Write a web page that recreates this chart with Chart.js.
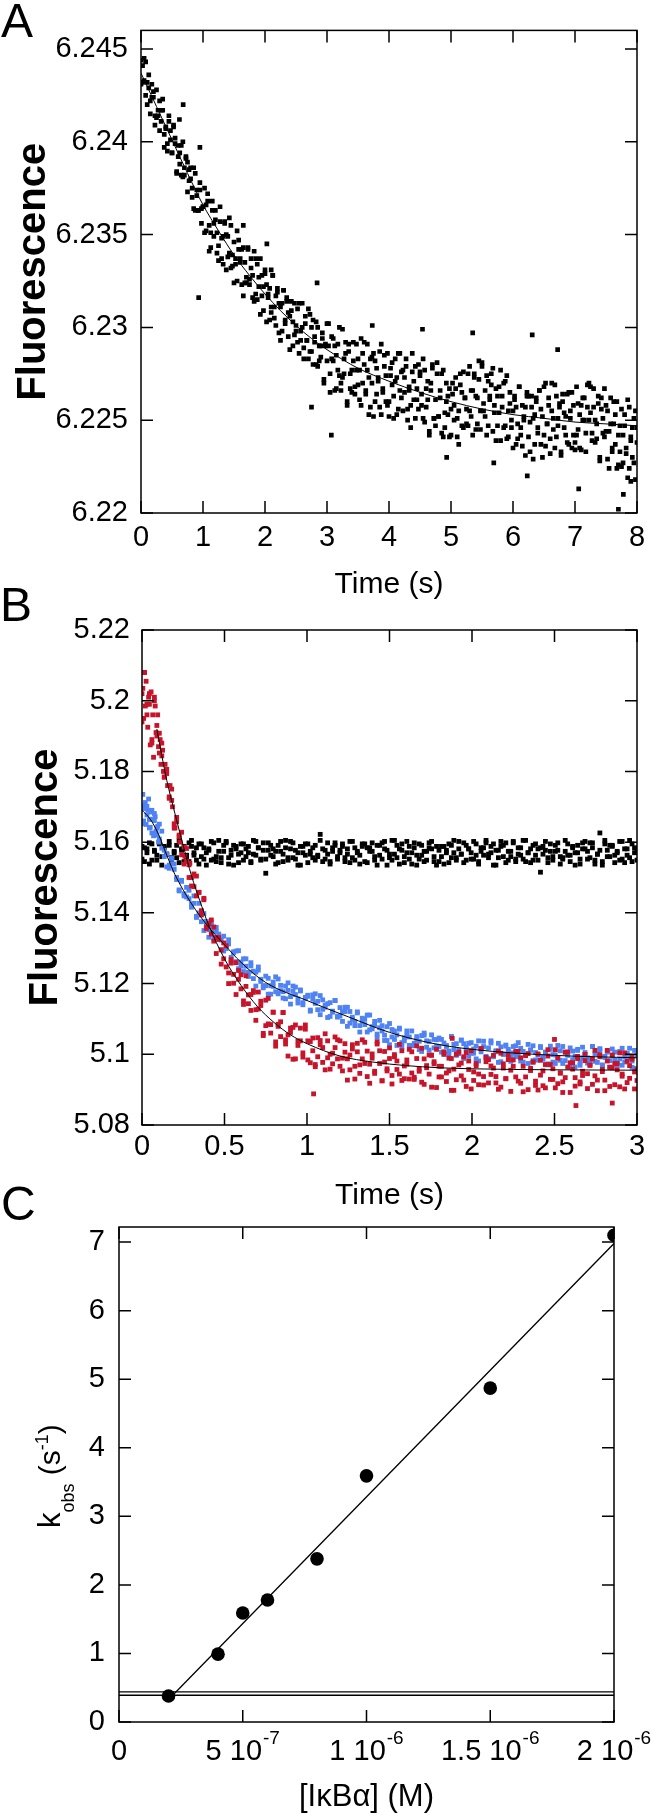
<!DOCTYPE html>
<html><head><meta charset="utf-8">
<script src="https://cdn.jsdelivr.net/npm/chart.js@4.4.1/dist/chart.umd.min.js"></script>
<style>
html,body{margin:0;padding:0;background:#fff;}
body{width:655px;height:1813px;position:relative;overflow:hidden;}
canvas{position:absolute;left:0;}
</style></head><body>
<canvas id="cA" width="655" height="605" style="top:0px"></canvas>
<canvas id="cB" width="655" height="655" style="top:560px"></canvas>
<canvas id="cC" width="655" height="643" style="top:1170px"></canvas>
<script>
// ---------------- Panel A data ----------------
const aTime = [
0,0.025,0.05,0.075,0.1,0.125,0.15,0.175,0.2,0.225,
0.25,0.275,0.3,0.325,0.35,0.375,0.4,0.425,0.45,0.475,
0.5,0.525,0.55,0.575,0.6,0.625,0.65,0.675,0.7,0.725,
0.75,0.775,0.8,0.825,0.85,0.875,0.9,0.925,0.95,0.975,
1,1.025,1.05,1.075,1.1,1.125,1.15,1.175,1.2,1.225,
1.25,1.275,1.3,1.325,1.35,1.375,1.4,1.425,1.45,1.475,
1.5,1.525,1.55,1.575,1.6,1.625,1.65,1.675,1.7,1.725,
1.75,1.775,1.8,1.825,1.85,1.875,1.9,1.925,1.95,1.975,
2,2.025,2.05,2.075,2.1,2.125,2.15,2.175,2.2,2.225,
2.25,2.275,2.3,2.325,2.35,2.375,2.4,2.425,2.45,2.475,
2.5,2.525,2.55,2.575,2.6,2.625,2.65,2.675,2.7,2.725,
2.75,2.775,2.8,2.825,2.85,2.875,2.9,2.925,2.95,2.975,
3,3.025,3.05,3.075,3.1,3.125,3.15,3.175,3.2,3.225,
3.25,3.275,3.3,3.325,3.35,3.375,3.4,3.425,3.45,3.475,
3.5,3.525,3.55,3.575,3.6,3.625,3.65,3.675,3.7,3.725,
3.75,3.775,3.8,3.825,3.85,3.875,3.9,3.925,3.95,3.975,
4,4.025,4.05,4.075,4.1,4.125,4.15,4.175,4.2,4.225,
4.25,4.275,4.3,4.325,4.35,4.375,4.4,4.425,4.45,4.475,
4.5,4.525,4.55,4.575,4.6,4.625,4.65,4.675,4.7,4.725,
4.75,4.775,4.8,4.825,4.85,4.875,4.9,4.925,4.95,4.975,
5,5.025,5.05,5.075,5.1,5.125,5.15,5.175,5.2,5.225,
5.25,5.275,5.3,5.325,5.35,5.375,5.4,5.425,5.45,5.475,
5.5,5.525,5.55,5.575,5.6,5.625,5.65,5.675,5.7,5.725,
5.75,5.775,5.8,5.825,5.85,5.875,5.9,5.925,5.95,5.975,
6,6.025,6.05,6.075,6.1,6.125,6.15,6.175,6.2,6.225,
6.25,6.275,6.3,6.325,6.35,6.375,6.4,6.425,6.45,6.475,
6.5,6.525,6.55,6.575,6.6,6.625,6.65,6.675,6.7,6.725,
6.75,6.775,6.8,6.825,6.85,6.875,6.9,6.925,6.95,6.975,
7,7.025,7.05,7.075,7.1,7.125,7.15,7.175,7.2,7.225,
7.25,7.275,7.3,7.325,7.35,7.375,7.4,7.425,7.45,7.475,
7.5,7.525,7.55,7.575,7.6,7.625,7.65,7.675,7.7,7.725,
7.75,7.775,7.8,7.825,7.85,7.875,7.9,7.925,7.95,7.975,
8];
// first trace
const aFluor = [
6.2444,6.2432,6.2445,6.2425,6.2432,6.2436,6.2415,6.2424,6.2427,6.2414,
6.2428,6.2414,6.2406,6.2417,6.2423,6.2404,6.2408,6.2395,6.2411,6.2401,
6.2394,6.2409,6.2399,6.2383,6.2398,6.2388,6.2398,6.2381,6.2386,6.2391,
6.2373,6.2385,6.2386,6.2375,6.2364,6.2383,6.2371,6.2363,6.2378,6.2356,
6.2365,6.2351,6.2366,6.2372,6.2355,6.2343,6.2363,6.2349,6.2363,6.2351,
6.2344,6.2365,6.2337,6.2349,6.2356,6.2331,6.2349,6.2340,6.2355,6.2333,
6.2346,6.2337,6.2325,6.2347,6.2335,6.2342,6.2317,6.2335,6.2324,6.2343,
6.2323,6.2337,6.2328,6.2314,6.2337,6.2315,6.2327,6.2337,6.2317,6.2309,
6.2329,6.2303,6.2316,6.2321,6.2308,6.2328,6.2311,6.2301,6.2319,6.2313,
6.2293,6.2313,6.2320,6.2304,6.2316,6.2295,6.2306,6.2309,6.2290,6.2313,
6.2301,6.2292,6.2313,6.2293,6.2300,6.2283,6.2306,6.2293,6.2310,6.2287,
6.2300,6.2280,6.2295,6.2303,6.2279,6.2290,6.2284,6.2297,6.2270,6.2291,
6.2282,6.2302,6.2275,6.2283,6.2294,6.2266,6.2285,6.2291,6.2274,6.2266,
6.2299,6.2275,6.2286,6.2260,6.2291,6.2267,6.2277,6.2282,6.2264,6.2291,
6.2269,6.2277,6.2258,6.2286,6.2292,6.2266,6.2277,6.2253,6.2283,6.2270,
6.2286,6.2260,6.2278,6.2271,6.2257,6.2291,6.2267,6.2279,6.2260,6.2286,
6.2252,6.2274,6.2281,6.2263,6.2271,6.2253,6.2286,6.2266,6.2276,6.2255,
6.2273,6.2283,6.2256,6.2266,6.2246,6.2276,6.2261,6.2279,6.2267,6.2256,
6.2276,6.2258,6.2283,6.2249,6.2267,6.2261,6.2244,6.2270,6.2278,6.2251,
6.2261,6.2275,6.2252,6.2266,6.2243,6.2277,6.2246,6.2260,6.2253,6.2267,
6.2242,6.2264,6.2258,6.2273,6.2251,6.2237,6.2269,6.2247,6.2276,6.2262,
6.2256,6.2247,6.2279,6.2252,6.2266,6.2275,6.2245,6.2262,6.2272,6.2245,
6.2279,6.2259,6.2252,6.2274,6.2247,6.2263,6.2269,6.2278,6.2254,6.2239,
6.2263,6.2268,6.2239,6.2257,6.2270,6.2247,6.2274,6.2241,6.2259,6.2250,
6.2235,6.2263,6.2257,6.2240,6.2268,6.2246,6.2236,6.2252,6.2257,6.2265,
6.2241,6.2249,6.2263,6.2229,6.2253,6.2260,6.2243,6.2266,6.2237,6.2252,
6.2268,6.2236,6.2248,6.2258,6.2240,6.2270,6.2251,6.2235,6.2263,6.2247,
6.2257,6.2233,6.2260,6.2254,6.2242,6.2264,6.2237,6.2251,6.2265,6.2242,
6.2238,6.2268,6.2245,6.2235,6.2258,6.2250,6.2262,6.2233,6.2257,6.2270,
6.2254,6.2243,6.2267,6.2238,6.2248,6.2259,6.2228,6.2262,6.2251,6.2241,
6.2258,6.2229,6.2244,6.2262,6.2233,6.2248,6.2237,6.2260,6.2226,6.2247,
6.2225,6.2242,6.2253,6.2232,6.2219,6.2257,6.2241,6.2230,6.2251,6.2218,
6.2246];
// second trace (same sampling times)
const aFluor2 = [
6.2431,6.2441,6.2433,6.2443,6.2420,6.2429,6.2422,6.2431,6.2424,6.2409,
6.2413,6.2417,6.2422,6.2411,6.2417,6.2397,6.2407,6.2399,6.2414,6.2406,
6.2394,6.2408,6.2402,6.2384,6.2392,6.2394,6.2382,6.2400,6.2382,6.2392,
6.2389,6.2379,6.2380,6.2370,6.2386,6.2363,6.2374,6.2363,6.2374,6.2364,
6.2365,6.2375,6.2352,6.2368,6.2341,6.2351,6.2368,6.2356,6.2358,6.2340,
6.2336,6.2357,6.2348,6.2334,6.2357,6.2350,6.2338,6.2359,6.2332,6.2339,
6.2324,6.2334,6.2352,6.2342,6.2337,6.2323,6.2343,6.2324,6.2327,6.2342,
6.2326,6.2332,6.2316,6.2341,6.2318,6.2334,6.2322,6.2307,6.2328,6.2322,
6.2331,6.2323,6.2318,6.2304,6.2311,6.2328,6.2305,6.2317,6.2321,6.2297,
6.2311,6.2298,6.2320,6.2302,6.2314,6.2308,6.2288,6.2314,6.2303,6.2296,
6.2298,6.2310,6.2286,6.2298,6.2313,6.2289,6.2302,6.2293,6.2283,6.2307,
6.2287,6.2304,6.2292,6.2280,6.2300,6.2282,6.2290,6.2294,6.2272,6.2290,
6.2302,6.2290,6.2265,6.2295,6.2282,6.2290,6.2267,6.2277,6.2300,6.2270,
6.2273,6.2283,6.2292,6.2258,6.2287,6.2275,6.2265,6.2292,6.2268,6.2277,
6.2283,6.2261,6.2294,6.2270,6.2280,6.2264,6.2291,6.2273,6.2257,6.2284,
6.2252,6.2282,6.2264,6.2273,6.2287,6.2253,6.2265,6.2285,6.2274,6.2258,
6.2260,6.2278,6.2269,6.2251,6.2283,6.2273,6.2256,6.2286,6.2262,6.2277,
6.2265,6.2279,6.2250,6.2268,6.2258,6.2286,6.2271,6.2251,6.2261,6.2280,
6.2274,6.2264,6.2251,6.2277,6.2257,6.2271,6.2242,6.2266,6.2280,6.2251,
6.2247,6.2281,6.2252,6.2262,6.2275,6.2241,6.2254,6.2270,6.2263,6.2241,
6.2256,6.2270,6.2250,6.2267,6.2241,6.2255,6.2275,6.2265,6.2246,6.2262,
6.2248,6.2275,6.2255,6.2266,6.2242,6.2273,6.2263,6.2248,6.2282,6.2255,
6.2281,6.2255,6.2266,6.2242,6.2271,6.2261,6.2275,6.2244,6.2258,6.2267,
6.2247,6.2254,6.2277,6.2263,6.2246,6.2271,6.2240,6.2255,6.2265,6.2246,
6.2255,6.2261,6.2237,6.2248,6.2268,6.2242,6.2258,6.2250,6.2231,6.2263,
6.2263,6.2233,6.2257,6.2251,6.2237,6.2262,6.2246,6.2266,6.2256,6.2230,
6.2242,6.2270,6.2248,6.2262,6.2232,6.2255,6.2245,6.2269,6.2241,6.2251,
6.2259,6.2231,6.2264,6.2246,6.2252,6.2238,6.2265,6.2255,6.2235,6.2258,
6.2234,6.2242,6.2259,6.2253,6.2234,6.2262,6.2250,6.2243,6.2269,6.2250,
6.2268,6.2239,6.2257,6.2250,6.2240,6.2263,6.2230,6.2256,6.2243,6.2267,
6.2244,6.2255,6.2224,6.2248,6.2235,6.2260,6.2253,6.2224,6.2242,6.2233,
6.2256,6.2227,6.2247,6.2235,6.2261,6.2224,6.2239,6.2246,6.2227,6.2255,
6.2238];
const aOutTime  = [0.68,0.62,0.95,0.93,1.65,2.03,2.1,2.84,2.75,3.07,3.73,4.54,5.35,6.31,6.72,6.23,7.06,7.7,7.78,7.9,4.93,5.69];
const aOutFluor = [6.2420,6.2412,6.2397,6.2316,6.2355,6.2345,6.2331,6.2324,6.2257,6.2242,6.2301,6.2299,6.2297,6.2296,6.2288,6.2220,6.2213,6.2202,6.2210,6.2217,6.2230,6.2227];
const aFitTime  = [0,0.25,0.5,0.75,1,1.25,1.5,1.75,2,2.25,2.5,2.75,3,3.5,4,4.5,5,5.5,6,6.5,7,7.5,8];
const aFitFluor = [6.2437,6.2419,6.2401,6.2383,6.2366,6.2352,6.2339,6.2328,6.2318,6.2309,6.2301,6.2294,6.2288,6.2278,6.2271,6.2265,6.2260,6.2256,6.2253,6.2251,6.2249,6.2248,6.2247];
const aXTicks = [0,1,2,3,4,5,6,7,8];
const aXTickLabels = ['0','1','2','3','4','5','6','7','8'];
const aYTicks = [6.22,6.225,6.23,6.235,6.24,6.245];
const aYTickLabels = ['6.22','6.225','6.23','6.235','6.24','6.245'];

// ---------------- Panel B data ----------------
const bTime = [
0,0.015,0.03,0.045,0.06,0.075,0.09,0.105,0.12,0.135,
0.15,0.165,0.18,0.195,0.21,0.225,0.24,0.255,0.27,0.285,
0.3,0.315,0.33,0.345,0.36,0.375,0.39,0.405,0.42,0.435,
0.45,0.465,0.48,0.495,0.51,0.525,0.54,0.555,0.57,0.585,
0.6,0.615,0.63,0.645,0.66,0.675,0.69,0.705,0.72,0.735,
0.75,0.765,0.78,0.795,0.81,0.825,0.84,0.855,0.87,0.885,
0.9,0.915,0.93,0.945,0.96,0.975,0.99,1.005,1.02,1.035,
1.05,1.065,1.08,1.095,1.11,1.125,1.14,1.155,1.17,1.185,
1.2,1.215,1.23,1.245,1.26,1.275,1.29,1.305,1.32,1.335,
1.35,1.365,1.38,1.395,1.41,1.425,1.44,1.455,1.47,1.485,
1.5,1.515,1.53,1.545,1.56,1.575,1.59,1.605,1.62,1.635,
1.65,1.665,1.68,1.695,1.71,1.725,1.74,1.755,1.77,1.785,
1.8,1.815,1.83,1.845,1.86,1.875,1.89,1.905,1.92,1.935,
1.95,1.965,1.98,1.995,2.01,2.025,2.04,2.055,2.07,2.085,
2.1,2.115,2.13,2.145,2.16,2.175,2.19,2.205,2.22,2.235,
2.25,2.265,2.28,2.295,2.31,2.325,2.34,2.355,2.37,2.385,
2.4,2.415,2.43,2.445,2.46,2.475,2.49,2.505,2.52,2.535,
2.55,2.565,2.58,2.595,2.61,2.625,2.64,2.655,2.67,2.685,
2.7,2.715,2.73,2.745,2.76,2.775,2.79,2.805,2.82,2.835,
2.85,2.865,2.88,2.895,2.91,2.925,2.94,2.955,2.97,2.985,
3];
const bBlack = [
5.1588,5.1545,5.1581,5.1598,5.1549,5.1574,5.1563,5.1595,5.1535,5.1584,
5.1566,5.1602,5.1556,5.1570,5.1591,5.1542,5.1577,5.1588,5.1559,5.1545,
5.1605,5.1563,5.1584,5.1538,5.1595,5.1552,5.1570,5.1581,5.1549,5.1598,
5.1559,5.1574,5.1542,5.1591,5.1602,5.1556,5.1577,5.1535,5.1588,5.1566,
5.1595,5.1549,5.1581,5.1570,5.1545,5.1605,5.1563,5.1584,5.1552,5.1598,
5.1512,5.1577,5.1591,5.1559,5.1574,5.1542,5.1602,5.1566,5.1584,5.1549,
5.1581,5.1598,5.1552,5.1570,5.1535,5.1588,5.1563,5.1595,5.1574,5.1556,
5.1591,5.1559,5.1622,5.1545,5.1577,5.1566,5.1538,5.1584,5.1598,5.1552,
5.1570,5.1595,5.1556,5.1581,5.1542,5.1602,5.1549,5.1574,5.1563,5.1588,
5.1545,5.1584,5.1574,5.1598,5.1559,5.1535,5.1591,5.1552,5.1602,5.1577,
5.1566,5.1549,5.1605,5.1556,5.1581,5.1595,5.1542,5.1570,5.1588,5.1538,
5.1598,5.1563,5.1552,5.1591,5.1545,5.1574,5.1584,5.1602,5.1559,5.1535,
5.1577,5.1588,5.1538,5.1570,5.1595,5.1556,5.1605,5.1549,5.1581,5.1566,
5.1542,5.1591,5.1581,5.1552,5.1602,5.1563,5.1545,5.1574,5.1584,5.1598,
5.1556,5.1570,5.1595,5.1535,5.1577,5.1588,5.1559,5.1598,5.1549,5.1574,
5.1602,5.1545,5.1566,5.1584,5.1552,5.1605,5.1570,5.1542,5.1591,5.1563,
5.1581,5.1515,5.1588,5.1577,5.1556,5.1595,5.1549,5.1574,5.1598,5.1559,
5.1552,5.1605,5.1563,5.1545,5.1584,5.1570,5.1591,5.1538,5.1581,5.1602,
5.1574,5.1556,5.1598,5.1549,5.1566,5.1626,5.1535,5.1595,5.1577,5.1559,
5.1591,5.1542,5.1570,5.1602,5.1552,5.1581,5.1563,5.1605,5.1545,5.1584,
5.1549];
const bBlack2 = [
5.1552,5.1584,5.1570,5.1538,5.1595,5.1577,5.1549,5.1602,5.1559,5.1588,
5.1566,5.1591,5.1542,5.1574,5.1556,5.1605,5.1581,5.1545,5.1563,5.1598,
5.1588,5.1570,5.1549,5.1595,5.1559,5.1584,5.1535,5.1577,5.1602,5.1552,
5.1545,5.1605,5.1556,5.1574,5.1598,5.1538,5.1563,5.1591,5.1581,5.1542,
5.1570,5.1595,5.1559,5.1588,5.1542,5.1566,5.1602,5.1584,5.1549,5.1577,
5.1552,5.1598,5.1563,5.1581,5.1538,5.1591,5.1574,5.1545,5.1605,5.1556,
5.1602,5.1556,5.1577,5.1535,5.1588,5.1570,5.1595,5.1542,5.1566,5.1584,
5.1549,5.1563,5.1605,5.1581,5.1552,5.1598,5.1545,5.1574,5.1591,5.1559,
5.1577,5.1588,5.1545,5.1566,5.1602,5.1556,5.1584,5.1570,5.1538,5.1595,
5.1595,5.1542,5.1584,5.1574,5.1549,5.1591,5.1563,5.1598,5.1581,5.1535,
5.1556,5.1605,5.1566,5.1591,5.1538,5.1577,5.1559,5.1602,5.1552,5.1570,
5.1584,5.1535,5.1595,5.1563,5.1574,5.1549,5.1598,5.1581,5.1545,5.1588,
5.1545,5.1559,5.1588,5.1577,5.1542,5.1591,5.1570,5.1556,5.1602,5.1566,
5.1598,5.1549,5.1581,5.1570,5.1552,5.1595,5.1538,5.1584,5.1563,5.1605,
5.1566,5.1588,5.1535,5.1577,5.1556,5.1602,5.1591,5.1542,5.1574,5.1559,
5.1598,5.1552,5.1584,5.1563,5.1605,5.1545,5.1570,5.1581,5.1549,5.1595,
5.1549,5.1584,5.1566,5.1602,5.1542,5.1574,5.1559,5.1591,5.1577,5.1538,
5.1556,5.1574,5.1595,5.1563,5.1588,5.1535,5.1570,5.1552,5.1598,5.1581,
5.1552,5.1598,5.1584,5.1538,5.1566,5.1577,5.1545,5.1605,5.1559,5.1591,
5.1588,5.1563,5.1574,5.1549,5.1602,5.1542,5.1581,5.1556,5.1595,5.1570,
5.1577];
const bRed = [
5.2020,5.2080,5.1960,5.1990,5.1880,5.2000,5.1900,5.1908,5.1844,5.1784,
5.1794,5.1728,5.1750,5.1652,5.1658,5.1616,5.1564,5.1586,5.1582,5.1500,
5.1500,5.1510,5.1448,5.1458,5.1394,5.1441,5.1360,5.1370,5.1340,5.1360,
5.1285,5.1325,5.1295,5.1315,5.1247,5.1200,5.1268,5.1201,5.1259,5.1212,
5.1185,5.1151,5.1222,5.1143,5.1169,5.1180,5.1096,5.1128,5.1150,5.1059,
5.1153,5.1086,5.1060,5.1119,5.1035,5.1079,5.1092,5.1118,5.1041,5.0995,
5.1062,5.1076,5.0987,5.1037,5.1074,5.1004,5.1083,5.0984,5.1036,5.1010,
5.0965,5.1047,5.1027,5.0977,5.1058,5.0990,5.0958,5.1003,5.1019,5.1041,
5.0966,5.0989,5.1030,5.0927,5.0998,5.1015,5.0966,5.1031,5.0946,5.0987,
5.1034,5.0937,5.0972,5.1001,5.0946,5.1035,5.0974,5.0925,5.1008,5.0959,
5.0988,5.0916,5.0999,5.0981,5.0944,5.1010,5.0931,5.0972,5.1014,5.0947,
5.0935,5.1024,5.0952,5.0921,5.0987,5.0962,5.0998,5.0907,5.0979,5.1014,
5.0966,5.0936,5.1007,5.0923,5.0953,5.0988,5.0898,5.1000,5.0970,5.0939,
5.0993,5.0909,5.0957,5.1010,5.0926,5.0974,5.0944,5.1016,5.0913,5.0979,
5.0919,5.0967,5.0997,5.0937,5.0901,5.1003,5.0961,5.0931,5.0985,5.0895,
5.0984,5.0936,5.1008,5.0918,5.0966,5.0996,5.0900,5.0954,5.0978,5.0924,
5.1001,5.0941,5.0911,5.0971,5.1013,5.0929,5.0959,5.0905,5.0989,5.0947,
5.0922,5.1006,5.0964,5.0892,5.0976,5.0934,5.0994,5.0916,5.0952,5.0982,
5.0903,5.0969,5.0987,5.0939,5.0897,5.0999,5.0957,5.0927,5.1011,5.0909,
5.0962,5.0914,5.0974,5.1004,5.0944,5.0902,5.0980,5.0932,5.0992,5.0950,
5.0926];
const bRed2 = [
5.1940,5.2080,5.1990,5.2020,5.1890,5.2010,5.1930,5.1852,5.1880,5.1784,
5.1806,5.1724,5.1718,5.1640,5.1670,5.1620,5.1628,5.1538,5.1546,5.1536,
5.1476,5.1474,5.1504,5.1458,5.1406,5.1437,5.1356,5.1370,5.1380,5.1320,
5.1330,5.1330,5.1255,5.1270,5.1307,5.1230,5.1258,5.1226,5.1169,5.1237,
5.1225,5.1141,5.1192,5.1168,5.1124,5.1175,5.1126,5.1176,5.1138,5.1053,
5.1081,5.1158,5.1084,5.1119,5.1023,5.1085,5.1050,5.1118,5.1029,5.1055,
5.1074,5.0986,5.1083,5.1025,5.1038,5.0992,5.1071,5.1038,5.0976,5.1046,
5.0971,5.0993,5.1039,5.1019,5.0956,5.1038,5.1000,5.0973,5.1049,5.0987,
5.1038,5.0953,5.1006,5.0987,5.0956,5.1027,5.0930,5.1007,5.0970,5.1041,
5.0974,5.1009,5.0918,5.0989,5.0952,5.1029,5.1010,5.0925,5.0978,5.0953,
5.1018,5.0940,5.0993,5.0957,5.1028,5.0926,5.0967,5.0984,5.0930,5.1007,
5.0929,5.0988,5.0958,5.1017,5.0915,5.0968,5.0944,5.0997,5.0973,5.0906,
5.0936,5.0966,5.1001,5.0947,5.0989,5.0898,5.0958,5.0928,5.1006,5.0975,
5.0927,5.1005,5.0981,5.0902,5.0950,5.0968,5.0914,5.1016,5.0937,5.0991,
5.0985,5.0943,5.0961,5.0919,5.1009,5.0907,5.0973,5.0931,5.0997,5.0955,
5.0966,5.1008,5.0924,5.0990,5.0894,5.0936,5.1002,5.0960,5.0978,5.0912,
5.0899,5.0983,5.0953,5.0905,5.0995,5.0971,5.0929,5.1013,5.0917,5.0947,
5.0892,5.0934,5.1006,5.0976,5.0958,5.0910,5.0988,5.0922,5.0940,5.1000,
5.0945,5.0969,5.0915,5.1011,5.0927,5.0993,5.0951,5.0897,5.0981,5.0963,
5.0998,5.0974,5.0956,5.0908,5.0938,5.1004,5.0920,5.0968,5.0986,5.0902,
5.0956];
const bBlue = [
5.1656,5.1695,5.1701,5.1664,5.1626,5.1681,5.1640,5.1609,5.1631,5.1559,
5.1566,5.1526,5.1539,5.1538,5.1494,5.1462,5.1489,5.1454,5.1472,5.1440,
5.1416,5.1448,5.1387,5.1400,5.1405,5.1350,5.1376,5.1352,5.1374,5.1328,
5.1347,5.1325,5.1296,5.1334,5.1305,5.1312,5.1259,5.1287,5.1262,5.1293,
5.1249,5.1270,5.1249,5.1220,5.1259,5.1214,5.1232,5.1247,5.1206,5.1188,
5.1221,5.1170,5.1194,5.1204,5.1177,5.1213,5.1180,5.1159,5.1193,5.1181,
5.1142,5.1178,5.1190,5.1157,5.1179,5.1140,5.1158,5.1164,5.1125,5.1168,
5.1144,5.1126,5.1166,5.1127,5.1139,5.1104,5.1146,5.1122,5.1152,5.1108,
5.1132,5.1093,5.1121,5.1133,5.1088,5.1105,5.1093,5.1117,5.1063,5.1102,
5.1084,5.1111,5.1069,5.1078,5.1093,5.1048,5.1075,5.1081,5.1054,5.1039,
5.1087,5.1049,5.1066,5.1025,5.1071,5.1033,5.1047,5.1054,5.1025,5.1066,
5.1031,5.1041,5.1013,5.1053,5.1060,5.1020,5.1036,5.0998,5.1042,5.1023,
5.1046,5.1006,5.1032,5.1022,5.1000,5.1050,5.1013,5.1030,5.1002,5.1040,
5.0988,5.1020,5.1031,5.1003,5.1015,5.0987,5.1038,5.1007,5.1022,5.0991,
5.1018,5.1032,5.0993,5.1007,5.0977,5.1021,5.1000,5.1026,5.1008,5.0992,
5.1022,5.0994,5.1033,5.0981,5.1008,5.0998,5.0974,5.1012,5.1024,5.0984,
5.0999,5.1019,5.0986,5.1006,5.0973,5.1023,5.0978,5.0998,5.0989,5.1010,
5.0974,5.1006,5.0997,5.1018,5.0985,5.0964,5.1011,5.0978,5.1020,5.0999,
5.0990,5.0974,5.1022,5.0980,5.1001,5.1013,5.0967,5.0991,5.1006,5.0964,
5.1015,5.0985,5.0975,5.1008,5.0969,5.0993,5.1002,5.1017,5.0981,5.0960,
5.0996];
const bBlue2 = [
5.1652,5.1703,5.1677,5.1640,5.1690,5.1661,5.1620,5.1651,5.1583,5.1577,
5.1530,5.1535,5.1554,5.1523,5.1500,5.1465,5.1492,5.1448,5.1445,5.1464,
5.1425,5.1427,5.1390,5.1427,5.1375,5.1398,5.1367,5.1331,5.1365,5.1349,
5.1359,5.1340,5.1323,5.1292,5.1299,5.1324,5.1274,5.1290,5.1292,5.1242,
5.1261,5.1234,5.1270,5.1232,5.1250,5.1235,5.1193,5.1238,5.1212,5.1194,
5.1194,5.1215,5.1170,5.1192,5.1219,5.1171,5.1195,5.1177,5.1157,5.1202,
5.1163,5.1193,5.1169,5.1145,5.1182,5.1146,5.1161,5.1167,5.1122,5.1156,
5.1171,5.1150,5.1112,5.1154,5.1133,5.1143,5.1107,5.1119,5.1152,5.1105,
5.1108,5.1120,5.1133,5.1079,5.1121,5.1099,5.1081,5.1120,5.1081,5.1093,
5.1099,5.1063,5.1111,5.1072,5.1084,5.1057,5.1096,5.1066,5.1039,5.1078,
5.1027,5.1070,5.1042,5.1055,5.1074,5.1021,5.1038,5.1066,5.1049,5.1024,
5.1025,5.1050,5.1037,5.1008,5.1054,5.1038,5.1012,5.1055,5.1018,5.1041,
5.1022,5.1042,5.0999,5.1025,5.1009,5.1050,5.1028,5.0997,5.1011,5.1040,
5.1030,5.1014,5.0995,5.1033,5.1003,5.1023,5.0981,5.1016,5.1037,5.0994,
5.0988,5.1038,5.0996,5.1010,5.1031,5.0979,5.1000,5.1023,5.1014,5.0980,
5.1004,5.1024,5.0994,5.1017,5.0978,5.0998,5.1028,5.1012,5.0982,5.1005,
5.0984,5.1022,5.0992,5.1006,5.0970,5.1014,5.0999,5.0974,5.1025,5.0983,
5.1022,5.0982,5.1000,5.0964,5.1009,5.0994,5.1014,5.0969,5.0990,5.1005,
5.0975,5.0986,5.1022,5.1001,5.0977,5.1016,5.0970,5.0994,5.1009,5.0982,
5.0997,5.1006,5.0969,5.0987,5.1017,5.0978,5.1002,5.0990,5.0963,5.1011,
5.1011];
const bRedExtraTime  = [0.005,0.01,0.02,0.025,0.035,0.04,0.05,0.055,0.065,0.07,0.08,0.085,0.095,0.1,0.11,0.115,0.125,0.13,0.14,0.155,0.17,0.185,0.2,0.23,0.26,0.29,1.04,2.63,2.85,1.88,2.5];
const bRedExtraFluor = [5.2035,5.1950,5.1985,5.2055,5.1925,5.2010,5.1875,5.2025,5.1960,5.1840,5.1985,5.1910,5.1960,5.1870,5.1890,5.1820,5.1860,5.1800,5.1820,5.1760,5.1760,5.1700,5.1640,5.1600,5.1560,5.1540,5.0888,5.0855,5.0862,5.1045,5.1042];
const bBlueExtraTime  = [0.005,0.01,0.02,0.025,0.035,0.04,0.05,0.055,0.065,0.07,0.08,0.085,0.095,0.1];
const bBlueExtraFluor = [5.1735,5.1660,5.1712,5.1650,5.1690,5.1722,5.1642,5.1685,5.1665,5.1618,5.1672,5.1630,5.1645,5.1600];
const bRedFitTime  = [0.09,0.12,0.15,0.2,0.25,0.3,0.35,0.4,0.5,0.6,0.7,0.8,0.9,1.0,1.2,1.4,1.6,1.8,2.0,2.5,3.0];
const bRedFitFluor = [5.1920,5.1845,5.1775,5.1680,5.1590,5.1505,5.1435,5.1370,5.1270,5.1195,5.1135,5.1090,5.1055,5.1030,5.0995,5.0978,5.0968,5.0962,5.0959,5.0956,5.0955];
const bBlueFitTime  = [0,0.05,0.1,0.15,0.2,0.3,0.4,0.5,0.6,0.75,1.0,1.25,1.5,1.75,2.0,2.5,3.0];
const bBlueFitFluor = [5.1690,5.1665,5.1622,5.1563,5.1508,5.1426,5.1362,5.1310,5.1260,5.1203,5.1152,5.1106,5.1062,5.1032,5.1014,5.0997,5.0990];
const bXTicks = [0,0.5,1,1.5,2,2.5,3];
const bXTickLabels = ['0','0.5','1','1.5','2','2.5','3'];
const bYTicks = [5.08,5.1,5.12,5.14,5.16,5.18,5.2,5.22];
const bYTickLabels = ['5.08','5.1','5.12','5.14','5.16','5.18','5.2','5.22'];

// ---------------- Panel C data ----------------
const cConc = [2e-7,4e-7,5e-7,6e-7,8e-7,1e-6,1.5e-6,2e-6];
const cKobs = [0.38,0.99,1.59,1.78,2.38,3.59,4.87,7.10];
const cFitConc = [2.2e-7,2e-6];
const cFitKobs = [0.40,6.98];
const cBaseConc = [0,2e-6];
const cBaseUpper = [0.44,0.44];
const cBaseLower = [0.39,0.39];
const cXTicks = [0,5e-7,1e-6,1.5e-6,2e-6];
const cXTickLabels = [['0',''],['5 10','-7'],['1 10','-6'],['1.5 10','-6'],['2 10','-6']];
const cYTicks = [0,1,2,3,4,5,6,7];
const cYTickLabels = ['0','1','2','3','4','5','6','7'];

// ---------------- helpers ----------------
const FONT = "'Liberation Sans', Arial, Helvetica, sans-serif";
Chart.defaults.font.family = FONT;
Chart.defaults.color = '#000';
const pts = (xs, ys) => xs.map((x, i) => ({x: x, y: ys[i]}));

const framePlugin = {
  id: 'frame',
  afterDatasetsDraw(chart, args, o) {
    const {ctx, chartArea: a, scales: {x, y}} = chart;
    ctx.save();
    ctx.strokeStyle = '#000';
    ctx.lineWidth = 1.5;
    ctx.beginPath();
    o.xTicks.forEach(v => {
      const p = x.getPixelForValue(v);
      ctx.moveTo(p, a.bottom); ctx.lineTo(p, a.bottom - o.len);
      ctx.moveTo(p, a.top); ctx.lineTo(p, a.top + o.len);
    });
    o.yTicks.forEach(v => {
      const p = y.getPixelForValue(v);
      ctx.moveTo(a.left, p); ctx.lineTo(a.left + o.len, p);
      ctx.moveTo(a.right, p); ctx.lineTo(a.right - o.len, p);
    });
    ctx.stroke();
    ctx.strokeRect(a.left, a.top, a.right - a.left, a.bottom - a.top);
    ctx.fillStyle = '#000';
    ctx.font = '48px ' + FONT;
    ctx.textAlign = 'left';
    ctx.textBaseline = 'alphabetic';
    ctx.fillText(o.letter, o.letterX, o.letterY);
    ctx.restore();
  }
};

function axisCfg(min, max, ticks, labels, pad, extra) {
  return Object.assign({
    type: 'linear', min: min, max: max,
    grid: {display: false, drawTicks: false},
    border: {display: false},
    afterBuildTicks: s => { s.ticks = ticks.map(v => ({value: v})); },
    ticks: {callback: (v, i) => labels[i], font: {size: 29}, color: '#000', padding: pad, autoSkip: false, maxRotation: 0, minRotation: 0},
  }, extra);
}

const baseOpts = {
  responsive: false, animation: false, devicePixelRatio: 1, events: [],
  plugins: {legend: {display: false}, tooltip: {enabled: false}}
};
const sq = (data, color, r) => ({data: data, pointStyle: 'rect', pointRadius: r, backgroundColor: color, borderWidth: 0});

// ---------------- Chart A ----------------
new Chart(document.getElementById('cA'), {
  type: 'scatter',
  data: {datasets: [
    {data: pts(aFitTime, aFitFluor), showLine: true, borderColor: '#000', borderWidth: 1.0, pointRadius: 0, cubicInterpolationMode: 'monotone'},
    sq(pts(aTime, aFluor), '#000', 3.3),
    sq(pts(aTime, aFluor2), '#000', 3.3),
    sq(pts(aOutTime, aOutFluor), '#000', 3.3)
  ]},
  options: Object.assign({}, baseOpts, {
    layout: {padding: {top: 18, right: 18, left: 0, bottom: 0}},
    plugins: Object.assign({}, baseOpts.plugins, {frame: {xTicks: aXTicks, yTicks: aYTicks, len: 12, letter: 'A', letterX: 1, letterY: 37}}),
    scales: {
      x: axisCfg(0, 8, aXTicks, aXTickLabels, 8, {
        title: {display: true, text: 'Time (s)', font: {size: 30, lineHeight: 1.2}, color: '#000', padding: {top: 0, bottom: 2}},
        afterFit: s => { s.height = 92; }
      }),
      y: axisCfg(6.22, 6.246, aYTicks, aYTickLabels, 13, {
        title: {display: true, text: 'Fluorescence', font: {size: 40, weight: 'bold', lineHeight: 1.2}, color: '#000', padding: {top: 10, bottom: 0}},
        afterFit: s => { s.width = 141; }
      })
    }
  }),
  plugins: [framePlugin]
});

// ---------------- Chart B ----------------
const RED = '#c8142a', BLUE = '#4f82f2';
new Chart(document.getElementById('cB'), {
  type: 'scatter',
  data: {datasets: [
    {data: pts(bRedFitTime, bRedFitFluor), showLine: true, borderColor: '#000', borderWidth: 1.0, pointRadius: 0, cubicInterpolationMode: 'monotone'},
    {data: pts(bBlueFitTime, bBlueFitFluor), showLine: true, borderColor: '#000', borderWidth: 1.0, pointRadius: 0, cubicInterpolationMode: 'monotone'},
    sq(pts(bTime, bRed), RED, 3.4),
    sq(pts(bTime, bRed2), RED, 3.4),
    sq(pts(bRedExtraTime, bRedExtraFluor), RED, 3.4),
    sq(pts(bTime, bBlue), BLUE, 3.4),
    sq(pts(bTime, bBlue2), BLUE, 3.4),
    sq(pts(bBlueExtraTime, bBlueExtraFluor), BLUE, 3.4),
    sq(pts(bTime, bBlack), '#000', 3.4),
    sq(pts(bTime, bBlack2), '#000', 3.4)
  ]},
  options: Object.assign({}, baseOpts, {
    layout: {padding: {top: 70, right: 18, left: 0, bottom: 0}},
    plugins: Object.assign({}, baseOpts.plugins, {frame: {xTicks: bXTicks, yTicks: bYTicks, len: 12, letter: 'B', letterX: 0, letterY: 61}}),
    scales: {
      x: axisCfg(0, 3, bXTicks, bXTickLabels, 5, {
        title: {display: true, text: 'Time (s)', font: {size: 30, lineHeight: 1.2}, color: '#000', padding: {top: 0, bottom: 1}},
        afterFit: s => { s.height = 90; }
      }),
      y: axisCfg(5.08, 5.22, bYTicks, bYTickLabels, 12, {
        title: {display: true, text: 'Fluorescence', font: {size: 40, weight: 'bold', lineHeight: 1.2}, color: '#000', padding: {top: 22, bottom: 0}},
        afterFit: s => { s.width = 142; }
      })
    }
  }),
  plugins: [framePlugin]
});

// ---------------- Chart C ----------------
const cYTitleParts = [
  {t: 'k', size: 31, dy: 0},
  {t: 'obs', size: 18, dy: 14},
  {t: ' (s', size: 30, dy: 0},
  {t: '-1', size: 18, dy: -12},
  {t: ')', size: 30, dy: 0}
];
const cExtras = {
  id: 'cExtras',
  afterDraw(chart) {
    const {ctx, scales: {x}, chartArea: a} = chart;
    ctx.save();
    ctx.fillStyle = '#000';
    ctx.textBaseline = 'alphabetic';
    ctx.textAlign = 'left';
    cXTicks.forEach((v, i) => {
      const main = cXTickLabels[i][0], sup = cXTickLabels[i][1];
      ctx.font = '29px ' + FONT; const wm = ctx.measureText(main).width;
      ctx.font = '19px ' + FONT; const ws = sup ? ctx.measureText(sup).width + 1 : 0;
      const x0 = x.getPixelForValue(v) - (wm + ws) / 2;
      const base = a.bottom + 38;
      ctx.font = '29px ' + FONT; ctx.fillText(main, x0, base);
      if (sup) { ctx.font = '19px ' + FONT; ctx.fillText(sup, x0 + wm + 1, base - 16); }
    });
    ctx.translate(60, a.bottom - 194);
    ctx.rotate(-Math.PI / 2);
    let cx = 0;
    cYTitleParts.forEach(p => {
      ctx.font = p.size + 'px ' + FONT;
      ctx.fillText(p.t, cx, p.dy);
      cx += ctx.measureText(p.t).width;
    });
    ctx.restore();
  }
};
new Chart(document.getElementById('cC'), {
  type: 'scatter',
  data: {datasets: [
    {data: pts(cConc, cKobs), pointStyle: 'circle', pointRadius: 6.8, backgroundColor: '#000', borderWidth: 0},
    {data: pts(cFitConc, cFitKobs), showLine: true, borderColor: '#000', borderWidth: 1.3, pointRadius: 0},
    {data: pts(cBaseConc, cBaseUpper), showLine: true, borderColor: '#000', borderWidth: 1.3, pointRadius: 0},
    {data: pts(cBaseConc, cBaseLower), showLine: true, borderColor: '#000', borderWidth: 1.3, pointRadius: 0}
  ]},
  options: Object.assign({}, baseOpts, {
    layout: {padding: {top: 57, right: 41, left: 0, bottom: 0}},
    plugins: Object.assign({}, baseOpts.plugins, {frame: {xTicks: cXTicks, yTicks: cYTicks, len: 12, letter: 'C', letterX: 1, letterY: 50}}),
    scales: {
      x: axisCfg(0, 2e-6, cXTicks, cXTickLabels.map(l => l[0]), 8, {
        ticks: {display: false},
        title: {display: true, text: '[I\u03BAB\u03B1] (M)', font: {size: 31, lineHeight: 1.0}, color: '#000', padding: {top: 0, bottom: 0}},
        afterFit: s => { s.height = 91; }
      }),
      y: axisCfg(0, 7.22, cYTicks, cYTickLabels, 14, {
        afterFit: s => { s.width = 119; }
      })
    }
  }),
  plugins: [framePlugin, cExtras]
});
</script></body></html>
